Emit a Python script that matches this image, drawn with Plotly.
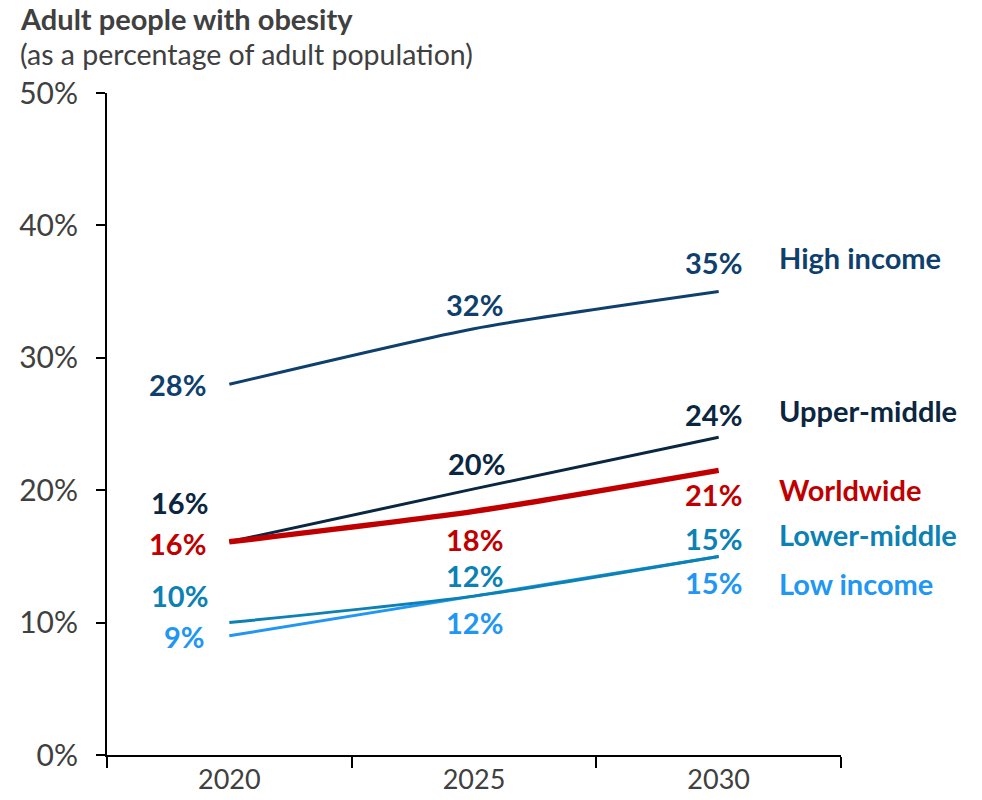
import plotly.graph_objects as go

years = ["2020", "2025", "2030"]
series_names = ["High income", "Upper-middle", "Worldwide", "Lower-middle", "Low income"]
high_income = [28.0, 32.2, 35.0]
upper_middle = [16.1, 20.1, 24.0]
worldwide = [16.1, 18.4, 21.5]
lower_middle = [10.0, 12.0, 15.0]
low_income = [9.0, 12.0, 15.0]
label_high = ["28%", "32%", "35%"]
label_upper = ["16%", "20%", "24%"]
label_world = ["16%", "18%", "21%"]
label_lower = ["10%", "12%", "15%"]
label_low = ["9%", "12%", "15%"]
y_ticks = [0, 10, 20, 30, 40, 50]
y_tick_labels = ["0%", "10%", "20%", "30%", "40%", "50%"]
title_text = "Adult people with obesity"
subtitle_text = "(as a percentage of adult population)"

FONT = "Lato"
GREY = "#404040"
colors = {
    "High income": "#0F3F6C",
    "Upper-middle": "#0A2640",
    "Worldwide": "#C00000",
    "Lower-middle": "#0C81B3",
    "Low income": "#2196F3",
}
widths = {"High income": 3, "Upper-middle": 3, "Worldwide": 5.5,
          "Lower-middle": 3, "Low income": 3}
values = {"High income": high_income, "Upper-middle": upper_middle,
          "Worldwide": worldwide, "Lower-middle": lower_middle, "Low income": low_income}
labels = {"High income": label_high, "Upper-middle": label_upper,
          "Worldwide": label_world, "Lower-middle": label_lower, "Low income": label_low}

# label offsets (pixels) per series per year: (xshift, yshift)
offsets = {
    "High income": [(-52, 0), (0, 24), (-5, 29)],
    "Upper-middle": [(-50, 39), (2, 25), (-5, 23)],
    "Worldwide": [(-52, -2), (0, -28), (-5, -24)],
    "Lower-middle": [(-50, 27), (0, 21), (-5, 18)],
    "Low income": [(-45, -1), (0, -26), (-5, -26)],
}
name_shift = {"High income": 34, "Upper-middle": 27, "Worldwide": -19,
              "Lower-middle": 22, "Low income": -27}

W, H = 982, 800
L, T = 107, 93
PW, PH = 734, 662

fig = go.Figure()
order = ["Low income", "Lower-middle", "High income", "Upper-middle", "Worldwide"]
for name in order:
    fig.add_trace(go.Scatter(
        x=years, y=values[name], mode="lines", name=name,
        line=dict(color=colors[name], width=widths[name], shape="spline", smoothing=0.6),
        showlegend=False, hoverinfo="skip",
    ))

for name in series_names:
    for i, yr in enumerate(years):
        xs, ys = offsets[name][i]
        fig.add_annotation(
            x=i, y=values[name][i], xref="x", yref="y", text=labels[name][i],
            showarrow=False, xshift=xs, yshift=ys,
            font=dict(family=FONT, size=29, color=colors[name], weight="bold"),
        )
    fig.add_annotation(
        x=len(years) - 1, y=values[name][-1], xref="x", yref="y", text=name,
        showarrow=False, xanchor="left", xshift=58, yshift=name_shift[name],
        font=dict(family=FONT, size=29, color=colors[name], weight="bold"),
    )

def px_x(px):
    return (px - L) / PW

def px_y(py):
    return 1 - (py - T) / PH

fig.add_annotation(
    xref="paper", yref="paper", x=px_x(18), y=px_y(19),
    xanchor="left", yanchor="middle", showarrow=False,
    text=title_text,
    font=dict(family=FONT, size=29, color=GREY, weight="bold"),
)
fig.add_annotation(
    xref="paper", yref="paper", x=px_x(18), y=px_y(54),
    xanchor="left", yanchor="middle", showarrow=False,
    text=subtitle_text,
    font=dict(family=FONT, size=28.5, color=GREY),
)

fig.update_layout(
    width=W, height=H,
    margin=dict(l=L, r=W - L - PW, t=T, b=H - T - PH),
    paper_bgcolor="white", plot_bgcolor="white",
    font=dict(family=FONT, color=GREY),
    xaxis=dict(
        type="category", range=[-0.5, 2.5], tickson="boundaries",
        showline=True, linecolor="black", linewidth=2,
        ticks="outside", ticklen=11, tickwidth=2, tickcolor="black",
        showgrid=False, zeroline=False, automargin=False,
        tickfont=dict(family=FONT, size=27, color=GREY),
    ),
    yaxis=dict(
        range=[0, 50], tickvals=y_ticks, ticktext=y_tick_labels,
        showline=True, linecolor="black", linewidth=2,
        ticks="outside", ticklen=9, tickwidth=2, tickcolor="black",
        showgrid=False, zeroline=False, ticklabelstandoff=12, automargin=False,
        tickfont=dict(family=FONT, size=30, color=GREY),
    ),
)

fig.write_html("out.html", config={"displayModeBar": False},
               post_script="document.body.style.margin='0px';")
